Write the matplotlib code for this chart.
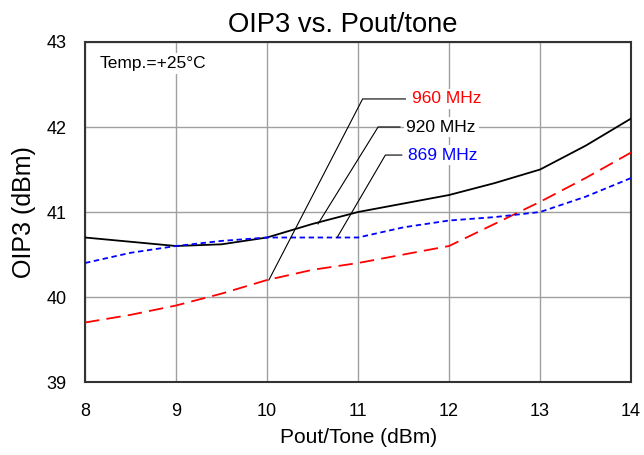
import numpy as np
import matplotlib
matplotlib.use("Agg")
import matplotlib.pyplot as plt

plt.rcParams['font.family'] = ['Liberation Sans', 'DejaVu Sans']

# Pout/tone (dBm)
pout = [8, 8.5, 9, 9.5, 10, 10.5, 11, 11.5, 12, 12.5, 13, 13.5, 14]
# OIP3 (dBm) per frequency
oip3_960 = [39.7, 39.79, 39.9, 40.04, 40.2, 40.32, 40.4, 40.5, 40.6, 40.86, 41.12, 41.4, 41.7]
oip3_920 = [40.7, 40.65, 40.6, 40.62, 40.7, 40.86, 41.0, 41.1, 41.2, 41.34, 41.5, 41.78, 42.1]
oip3_869 = [40.4, 40.52, 40.6, 40.66, 40.7, 40.7, 40.7, 40.82, 40.9, 40.94, 41.0, 41.18, 41.4]

labels = ['960 MHz', '920 MHz', '869 MHz']
colors = ['#ff0000', '#000000', '#0000ff']
# leader line anchors: point on curve, elbow, end of horizontal
anchors = [(10.02, 40.2), (10.56, 40.86), (10.77, 40.70)]
elbows = [(11.05, 42.33), (11.22, 42.0), (11.30, 41.67)]
ends = [(11.52, 42.33), (11.46, 42.0), (11.48, 41.67)]

fig = plt.figure(figsize=(6.44, 4.55), dpi=100)
ax = fig.add_axes([0.132, 0.1604, 0.848, 0.7473])

ax.plot(pout, oip3_920, color='black', lw=1.3, zorder=3)
ax.plot(pout, oip3_960, color='#ff0000', lw=1.3, dashes=(8, 4), zorder=3)
ax.plot(pout, oip3_869, color='#0000ff', lw=1.3, dashes=(3, 2), zorder=3)

for lab, c, a, e, n in zip(labels, colors, anchors, elbows, ends):
    ax.plot([a[0], e[0], n[0]], [a[1], e[1], n[1]], color='black', lw=0.8, zorder=4)
    ax.text(n[0] + 0.07, n[1], lab, color=c, fontsize=12.5, va='center', ha='left',
            bbox=dict(facecolor='white', edgecolor='none', pad=2), zorder=5)

ax.text(8.165, 42.75, 'Temp.=+25°C', fontsize=12.5, va='center', ha='left',
        bbox=dict(facecolor='white', edgecolor='none', pad=2), zorder=5)

ax.set_xlim(8, 14)
ax.set_ylim(39, 43)
ax.set_xticks(range(8, 15))
ax.set_yticks(range(39, 44))
ax.grid(True, color='#a0a0a0', lw=1)
ax.set_axisbelow(True)
ax.tick_params(length=0, labelsize=13, pad=15)
ax.tick_params(axis='y', pad=13)
for s in ax.spines.values():
    s.set_linewidth(1.5)
    s.set_color('#333333')

ax.set_title('OIP3 vs. Pout/tone', fontsize=19.7, pad=7, x=0.4716)
ax.set_xlabel('Pout/Tone (dBm)', fontsize=15, labelpad=6)
ax.set_ylabel('OIP3 (dBm)', fontsize=18, labelpad=8)

fig.savefig('out.png', dpi=100)
